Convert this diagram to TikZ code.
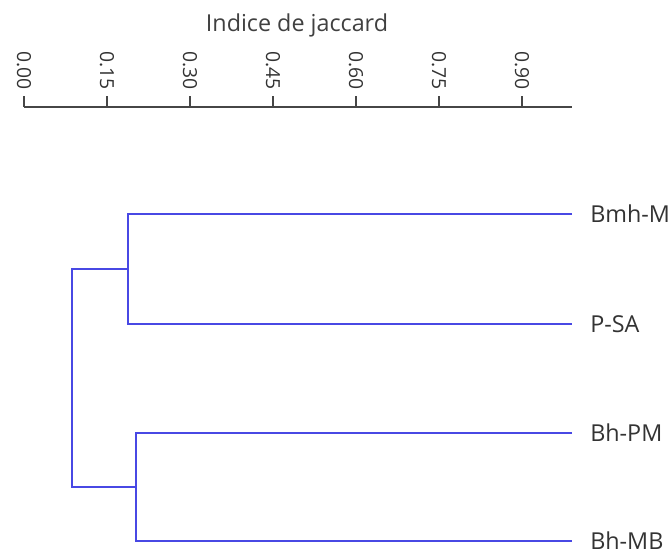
\documentclass[tikz,border=0pt]{standalone}
\usepackage{fontspec}
\setmainfont{Open Sans}
\usetikzlibrary{positioning}

\definecolor{dendro}{RGB}{72,72,228}
\definecolor{axisgray}{RGB}{70,70,70}

\begin{document}
\begin{tikzpicture}[x=0.75pt,y=-0.75pt]
    \tikzstyle{leaf}=[anchor=west, inner sep=0pt, font=\fontsize{17.5}{20}\selectfont, text=black!80]
    \tikzstyle{tick}=[anchor=east, rotate=-90, inner sep=0pt, font=\fontsize{14.5}{17}\selectfont, text=black!80]
    \tikzstyle{e}=[dendro, line width=1.4pt]
    \tikzstyle{ax}=[axisgray, line width=1.3pt]

    \def\dx{83}

    \useasboundingbox (0,0) rectangle (670,554);

    % axis
    \node[font=\fontsize{17.5}{20}\selectfont, text=black!75] (title) at (297,25) {Indice de jaccard};
    \coordinate (a0) at (24,107);
    \coordinate (a1) at (572,107);
    \draw[ax] (a0) -- (a1);
    \foreach \v [count=\i from 0] in {0.00,0.15,0.30,0.45,0.60,0.75,0.90} {
        \coordinate (t\i) at (24+\i*\dx,96);
        \draw[ax] (t\i) -- (24+\i*\dx,107);
        \node[tick] (l\i) at (24+\i*\dx,90) {\v};
    }

    % leaves
    \node[leaf] (BmhM) at (590,214) {Bmh-M};
    \node[leaf] (PSA) at (590,324) {P-SA};
    \node[leaf] (BhPM) at (590,433) {Bh-PM};
    \node[leaf] (BhMB) at (590,541) {Bh-MB};

    \coordinate (e1) at (572,214);
    \coordinate (e2) at (572,324);
    \coordinate (e3) at (572,433);
    \coordinate (e4) at (572,541);

    % junctions
    \coordinate (j1) at (128,269);
    \coordinate (j2) at (136,487);
    \coordinate (r) at (72,378);

    \draw[e] (e1) -| (j1) |- (e2);
    \draw[e] (e3) -| (j2) |- (e4);
    \draw[e] (j1) -| (r) |- (j2);

\end{tikzpicture}
\end{document}
